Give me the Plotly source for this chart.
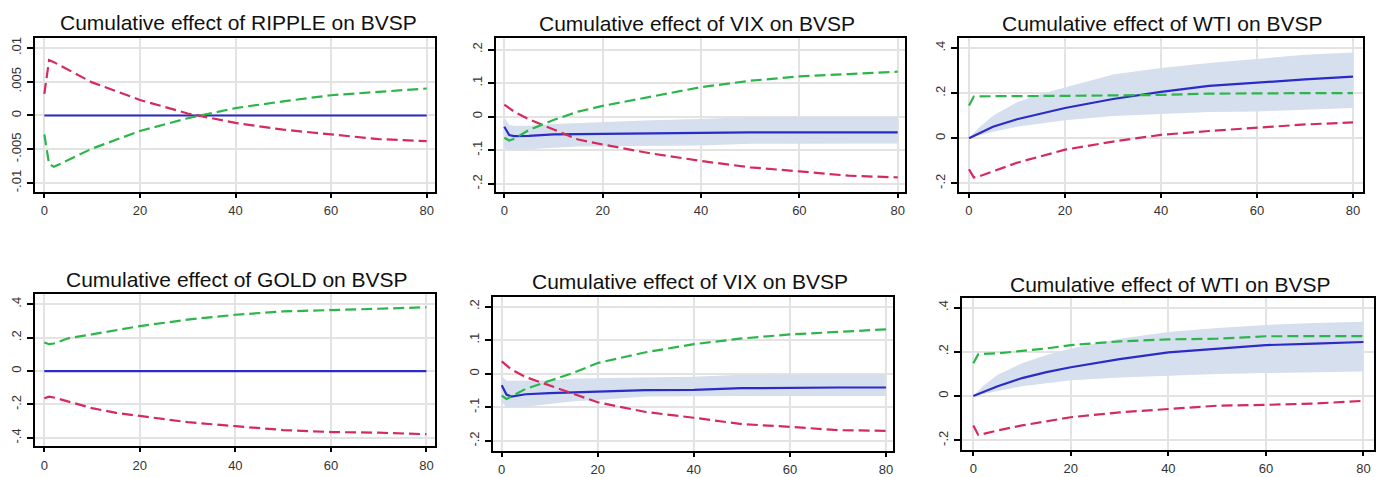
import plotly.graph_objects as go

# horizons at which values were read
H = [0, 1, 2, 5, 10, 15, 20, 30, 40, 50, 60, 70, 80]

titles = ["Cumulative effect of RIPPLE on BVSP", "Cumulative effect of VIX on BVSP",
          "Cumulative effect of WTI on BVSP", "Cumulative effect of GOLD on BVSP",
          "Cumulative effect of VIX on BVSP", "Cumulative effect of WTI on BVSP"]

# Panel 1: RIPPLE
p1_irf = [0]*13
p1_red = [0.0032, 0.0082, 0.0079, 0.0068, 0.0049, 0.0036, 0.0023, 0.0003, -0.0011, -0.0021, -0.0028, -0.0035, -0.0038]
p1_green = [-0.0028, -0.0072, -0.0076, -0.0066, -0.0049, -0.0036, -0.0023, -0.0004, 0.0011, 0.0021, 0.003, 0.0035, 0.004]

# Panel 2: VIX
p2_irf = [-0.03, -0.055, -0.058, -0.057, -0.053, -0.052, -0.052, -0.051, -0.048, -0.047, -0.047, -0.047, -0.047]
p2_up = [-0.002, -0.025, -0.027, -0.027, -0.022, -0.019, -0.017, -0.011, -0.007, -0.001, 0.0, 0.0, 0.0]
p2_lo = [-0.095, -0.098, -0.098, -0.097, -0.093, -0.089, -0.088, -0.087, -0.086, -0.081, -0.08, -0.08, -0.08]
p2_red = [0.036, 0.025, 0.015, -0.008, -0.039, -0.068, -0.083, -0.11, -0.132, -0.151, -0.163, -0.176, -0.181]
p2_green = [-0.063, -0.071, -0.066, -0.04, -0.01, 0.015, 0.032, 0.059, 0.088, 0.107, 0.12, 0.127, 0.134]

# Panel 3: WTI
p3_irf = [0, 0.01, 0.02, 0.051, 0.084, 0.109, 0.134, 0.174, 0.206, 0.232, 0.247, 0.261, 0.273]
p3_up = [0, 0.025, 0.045, 0.10, 0.16, 0.196, 0.225, 0.283, 0.312, 0.334, 0.352, 0.37, 0.381]
p3_lo = [0, 0.006, 0.012, 0.029, 0.051, 0.065, 0.08, 0.099, 0.109, 0.116, 0.119, 0.128, 0.134]
p3_green = [0.145, 0.185, 0.186, 0.186, 0.186, 0.187, 0.188, 0.19, 0.192, 0.198, 0.2, 0.2, 0.2]
p3_red = [-0.138, -0.174, -0.17, -0.148, -0.109, -0.08, -0.051, -0.015, 0.015, 0.032, 0.046, 0.061, 0.07]

# Panel 4: GOLD
p4_irf = [0]*13
p4_green = [0.171, 0.161, 0.165, 0.196, 0.22, 0.245, 0.269, 0.308, 0.337, 0.357, 0.367, 0.373, 0.382]
p4_red = [-0.163, -0.153, -0.158, -0.182, -0.222, -0.25, -0.27, -0.306, -0.33, -0.353, -0.365, -0.369, -0.378]

# Panel 5: VIX
p5_irf = [-0.034, -0.062, -0.068, -0.061, -0.058, -0.055, -0.053, -0.049, -0.048, -0.043, -0.041, -0.041, -0.041]
p5_up = [-0.007, -0.021, -0.021, -0.021, -0.02, -0.014, -0.013, -0.01, -0.009, -0.003, -0.002, -0.002, -0.002]
p5_lo = [-0.085, -0.1, -0.1, -0.098, -0.09, -0.082, -0.078, -0.068, -0.067, -0.066, -0.066, -0.066, -0.066]
p5_red = [0.037, 0.025, 0.013, -0.01, -0.036, -0.06, -0.085, -0.114, -0.131, -0.15, -0.158, -0.168, -0.17]
p5_green = [-0.065, -0.075, -0.068, -0.045, -0.021, 0.003, 0.032, 0.064, 0.088, 0.105, 0.117, 0.125, 0.132]

# Panel 6: WTI
p6_irf = [0, 0.009, 0.018, 0.044, 0.081, 0.108, 0.13, 0.167, 0.197, 0.215, 0.23, 0.237, 0.244]
p6_up = [0, 0.025, 0.045, 0.096, 0.148, 0.185, 0.215, 0.259, 0.289, 0.307, 0.321, 0.33, 0.336]
p6_lo = [0, 0.005, 0.009, 0.022, 0.044, 0.059, 0.071, 0.084, 0.093, 0.099, 0.104, 0.108, 0.111]
p6_green = [0.148, 0.188, 0.19, 0.193, 0.204, 0.215, 0.23, 0.247, 0.256, 0.259, 0.27, 0.271, 0.271]
p6_red = [-0.133, -0.175, -0.172, -0.156, -0.133, -0.113, -0.096, -0.074, -0.059, -0.044, -0.04, -0.034, -0.022]

x_ticks = [0, 20, 40, 60, 80]
y_ticks = [
    ([-0.01, -0.005, 0, 0.005, 0.01], ["-.01", "-.005", "0", ".005", ".01"]),
    ([-0.2, -0.1, 0, 0.1, 0.2], ["-.2", "-.1", "0", ".1", ".2"]),
    ([-0.2, 0, 0.2, 0.4], ["-.2", "0", ".2", ".4"]),
    ([-0.4, -0.2, 0, 0.2, 0.4], ["-.4", "-.2", "0", ".2", ".4"]),
    ([-0.2, -0.1, 0, 0.1, 0.2], ["-.2", "-.1", "0", ".1", ".2"]),
    ([-0.2, 0, 0.2, 0.4], ["-.2", "0", ".2", ".4"]),
]

panels = [
    dict(irf=p1_irf, up=None, lo=None, red=p1_red, green=p1_green),
    dict(irf=p2_irf, up=p2_up, lo=p2_lo, red=p2_red, green=p2_green),
    dict(irf=p3_irf, up=p3_up, lo=p3_lo, red=p3_red, green=p3_green),
    dict(irf=p4_irf, up=None, lo=None, red=p4_red, green=p4_green),
    dict(irf=p5_irf, up=p5_up, lo=p5_lo, red=p5_red, green=p5_green),
    dict(irf=p6_irf, up=p6_up, lo=p6_lo, red=p6_red, green=p6_green),
]

# the page body has a default 8px margin; size the figure so it fills the window exactly
OFF = 8
W, Hh = 1386 - OFF, 477 - OFF
# pixel boxes in window coordinates (left, right, top, bottom)
boxes = [(35, 435, 38, 194), (496, 905, 38, 194), (959, 1363, 37, 194),
         (35, 435, 298, 453), (493, 893, 301, 457.5), (962, 1374, 301.7, 456.5)]
xranges = [(-1.95, 81.74), (-1.69, 81.48), (-2.08, 82.08), (-1.95, 81.8), (-1.81, 81.46), (-2.32, 82.17)]
yranges = [(-0.0113, 0.0114), (-0.224, 0.233), (-0.238, 0.447), (-0.451, 0.461), (-0.2295, 0.2284), (-0.2435, 0.4444)]
title_pos = [(238, 22), (697, 23), (1162, 23), (237, 283), (690, 285), (1170, 288)]

BLUE = "#2b2bc6"
RED = "#d42a5c"
GREEN = "#2cb54a"
BAND = "rgba(213,223,237,1)"


def fx(px):
    return (px - OFF) / W


def fy(py):
    return 1 - (py - OFF) / Hh


fig = go.Figure()
layout = dict(width=W, height=Hh, margin=dict(l=0, r=0, t=0, b=0),
              paper_bgcolor="white", plot_bgcolor="white", showlegend=False,
              font=dict(family="Liberation Sans, Arial, sans-serif", color="#333"))
annotations = []
for i, p in enumerate(panels):
    n = i + 1
    xa = "x" if n == 1 else f"x{n}"
    ya = "y" if n == 1 else f"y{n}"
    if p["up"] is not None:
        fig.add_trace(go.Scatter(x=H, y=p["lo"], mode="lines", line=dict(width=0, color=BAND),
                                 xaxis=xa, yaxis=ya, hoverinfo="skip"))
        fig.add_trace(go.Scatter(x=H, y=p["up"], mode="lines", line=dict(width=0, color=BAND),
                                 fill="tonexty", fillcolor=BAND, xaxis=xa, yaxis=ya, hoverinfo="skip"))
    fig.add_trace(go.Scatter(x=H, y=p["irf"], mode="lines", line=dict(color=BLUE, width=2.2),
                             xaxis=xa, yaxis=ya))
    fig.add_trace(go.Scatter(x=H, y=p["red"], mode="lines", line=dict(color=RED, width=2.2, dash="11px,5px"),
                             xaxis=xa, yaxis=ya))
    fig.add_trace(go.Scatter(x=H, y=p["green"], mode="lines", line=dict(color=GREEN, width=2.2, dash="11px,5px"),
                             xaxis=xa, yaxis=ya))
    l, r, t, b = boxes[i]
    xkey = "xaxis" if n == 1 else f"xaxis{n}"
    ykey = "yaxis" if n == 1 else f"yaxis{n}"
    layout[xkey] = dict(domain=[fx(l), fx(r)], range=list(xranges[i]), anchor=ya,
                        tickvals=x_ticks, ticktext=[str(v) for v in x_ticks],
                        showgrid=True, gridcolor="#e3e3e3", gridwidth=1.5, zeroline=False,
                        showline=True, linecolor="black", linewidth=2, mirror=True,
                        ticks="outside", ticklen=4, tickcolor="black", tickwidth=1.5,
                        ticklabelstandoff=2,
                        tickfont=dict(size=13, color="#333"))
    layout[ykey] = dict(domain=[fy(b), fy(t)], range=list(yranges[i]), anchor=xa,
                        tickvals=y_ticks[i][0], ticktext=y_ticks[i][1], tickangle=-90,
                        showgrid=True, gridcolor="#e3e3e3", gridwidth=1.5, zeroline=False,
                        showline=True, linecolor="black", linewidth=2, mirror=True,
                        ticks="outside", ticklen=6, tickcolor="black", tickwidth=1.5,
                        ticklabelstandoff=1,
                        tickfont=dict(size=13, color="#333"))
    tx, ty = title_pos[i]
    annotations.append(dict(text=titles[i], x=fx(tx), y=fy(ty), xref="paper", yref="paper",
                            xanchor="center", yanchor="middle", showarrow=False,
                            font=dict(size=21, color="#111")))
layout["annotations"] = annotations
fig.update_layout(**layout)
fig.write_html("out.html")
